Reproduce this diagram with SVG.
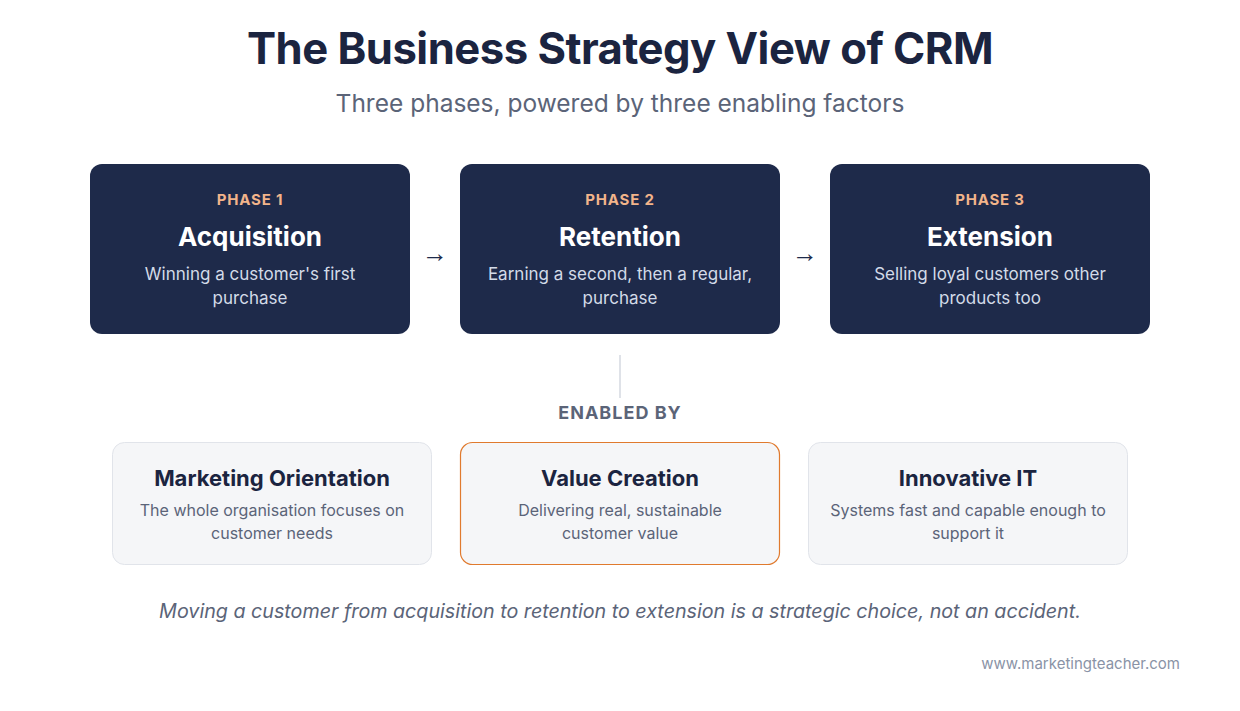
<svg xmlns="http://www.w3.org/2000/svg" width="1240" height="711" viewBox="0 0 1240 711">
<style>
.t{font-family:Inter,"Noto Sans","Liberation Sans",sans-serif}
.title{font-size:43.6px;font-weight:700;fill:#1b2440;letter-spacing:-0.5px}
.sub{font-size:24.5px;fill:#5b6478}
.phase{fill:#1e2a4a}
.plabel{font-size:15px;font-weight:700;fill:#f2b48a;letter-spacing:0.8px}
.pname{font-size:26px;font-weight:700;fill:#ffffff}
.pdesc{font-size:17px;fill:#d3dbe8}
.arrow{font-family:"Liberation Sans",sans-serif;font-size:26px;fill:#1e2a4a}
.en{fill:#f5f6f8;stroke:#e1e4ea;stroke-width:1}
.enhl{fill:#f5f6f8;stroke:#e07a2e;stroke-width:1.2}
.ename{font-size:22px;font-weight:700;fill:#1b2440}
.edesc{font-size:16px;fill:#5b6478}
.enabled{font-size:18px;font-weight:700;fill:#5b6478;letter-spacing:1px}
.foot{font-size:19.7px;font-style:italic;fill:#5b6478}
.url{font-size:15px;fill:#8a93a6}
</style>
<rect width="1240" height="711" fill="#ffffff"/>
<text class="t title" x="620" y="64" text-anchor="middle">The Business Strategy View of CRM</text>
<text class="t sub" x="620" y="112" text-anchor="middle">Three phases, powered by three enabling factors</text>

<g id="phase1">
<rect class="phase" x="90" y="164" width="320" height="170" rx="12"/>
<text class="t plabel" x="250" y="205" text-anchor="middle">PHASE 1</text>
<text class="t pname" x="250" y="246" text-anchor="middle">Acquisition</text>
<text class="t pdesc" x="250" y="280" text-anchor="middle">Winning a customer's first</text>
<text class="t pdesc" x="250" y="304" text-anchor="middle">purchase</text>
</g>
<g id="phase2">
<rect class="phase" x="460" y="164" width="320" height="170" rx="12"/>
<text class="t plabel" x="620" y="205" text-anchor="middle">PHASE 2</text>
<text class="t pname" x="620" y="246" text-anchor="middle">Retention</text>
<text class="t pdesc" x="620" y="280" text-anchor="middle">Earning a second, then a regular,</text>
<text class="t pdesc" x="620" y="304" text-anchor="middle">purchase</text>
</g>
<g id="phase3">
<rect class="phase" x="830" y="164" width="320" height="170" rx="12"/>
<text class="t plabel" x="990" y="205" text-anchor="middle">PHASE 3</text>
<text class="t pname" x="990" y="246" text-anchor="middle">Extension</text>
<text class="t pdesc" x="990" y="280" text-anchor="middle">Selling loyal customers other</text>
<text class="t pdesc" x="990" y="304" text-anchor="middle">products too</text>
</g>

<g id="connectors">
<text class="arrow" x="435" y="262" text-anchor="middle">→</text>
<text class="arrow" x="805" y="262" text-anchor="middle">→</text>
<line x1="620" y1="355" x2="620" y2="398" stroke="#d5d9e0" stroke-width="1.5"/>
</g>

<text class="t enabled" x="620" y="419" text-anchor="middle">ENABLED BY</text>

<g id="enabler1">
<rect class="en" x="112.5" y="442.5" width="319" height="122" rx="12"/>
<text class="t ename" x="272" y="486" text-anchor="middle">Marketing Orientation</text>
<text class="t edesc" x="272" y="516" text-anchor="middle">The whole organisation focuses on</text>
<text class="t edesc" x="272" y="539" text-anchor="middle">customer needs</text>
</g>
<g id="enabler2">
<rect class="enhl" x="460.5" y="442.5" width="319" height="122" rx="12"/>
<text class="t ename" x="620" y="486" text-anchor="middle">Value Creation</text>
<text class="t edesc" x="620" y="516" text-anchor="middle">Delivering real, sustainable</text>
<text class="t edesc" x="620" y="539" text-anchor="middle">customer value</text>
</g>
<g id="enabler3">
<rect class="en" x="808.5" y="442.5" width="319" height="122" rx="12"/>
<text class="t ename" x="968" y="486" text-anchor="middle">Innovative IT</text>
<text class="t edesc" x="968" y="516" text-anchor="middle">Systems fast and capable enough to</text>
<text class="t edesc" x="968" y="539" text-anchor="middle">support it</text>
</g>

<text class="t foot" x="620" y="618" text-anchor="middle">Moving a customer from acquisition to retention to extension is a strategic choice, not an accident.</text>
<text class="t url" x="1180" y="669" text-anchor="end">www.marketingteacher.com</text>
</svg>
